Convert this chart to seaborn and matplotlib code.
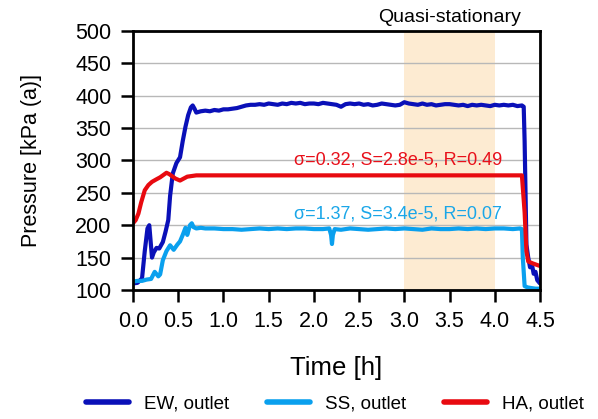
import numpy as np
import pandas as pd
import matplotlib
matplotlib.use("Agg")
import matplotlib.pyplot as plt
import seaborn as sns

# ---- data ----
ew_t = [0.00, 0.05, 0.10, 0.13, 0.16, 0.18, 0.21, 0.23, 0.26, 0.29, 0.33, 0.36, 0.39, 0.41, 0.44,
        0.48, 0.52, 0.55, 0.58, 0.61, 0.64, 0.66, 0.68, 0.70, 0.75, 0.80, 0.85, 0.90, 0.95, 1.00,
        1.05, 1.10, 1.15, 1.20, 1.25, 1.30, 1.35, 1.40, 1.45, 1.50, 1.55, 1.60, 1.65, 1.70, 1.75,
        1.80, 1.85, 1.90, 1.95, 2.00, 2.05, 2.10, 2.15, 2.20, 2.25, 2.30, 2.35, 2.40, 2.45, 2.50,
        2.55, 2.60, 2.65, 2.70, 2.75, 2.80, 2.85, 2.90, 2.95, 3.00, 3.05, 3.10, 3.15, 3.20, 3.25,
        3.30, 3.35, 3.40, 3.45, 3.50, 3.55, 3.60, 3.65, 3.70, 3.75, 3.80, 3.85, 3.90, 3.95, 4.00,
        4.05, 4.10, 4.15, 4.20, 4.25, 4.30, 4.32, 4.33, 4.35, 4.37, 4.39, 4.41, 4.43, 4.45, 4.47,
        4.50]
ew_p = [110, 111, 118, 160, 195, 200, 150, 158, 165, 164, 174, 190, 208, 245, 280,
        296, 305, 330, 352, 370, 382, 385, 380, 374, 376, 377, 376, 378, 377, 379,
        379, 380, 381, 383, 385, 386, 386, 387, 386, 388, 387, 386, 388, 387, 389,
        388, 389, 387, 388, 388, 387, 389, 388, 387, 386, 383, 387, 388, 387, 388,
        386, 387, 385, 386, 388, 387, 386, 385, 386, 390, 388, 387, 386, 388, 386,
        387, 385, 386, 387, 387, 386, 385, 386, 384, 386, 385, 386, 385, 384, 386,
        385, 386, 385, 386, 384, 385, 383, 330, 170, 150, 135, 140, 125, 128, 115,
        110]

ss_t = [0.00, 0.05, 0.10, 0.15, 0.20, 0.24, 0.28, 0.30, 0.33, 0.37, 0.41, 0.45, 0.49, 0.52, 0.55,
        0.58, 0.60, 0.63, 0.65, 0.67, 0.70, 0.75, 0.80, 0.90, 1.00, 1.10, 1.20, 1.30, 1.40, 1.50,
        1.60, 1.70, 1.80, 1.90, 2.00, 2.10, 2.17, 2.19, 2.20, 2.21, 2.23, 2.30, 2.40, 2.50, 2.60,
        2.70, 2.80, 2.90, 3.00, 3.10, 3.20, 3.30, 3.40, 3.50, 3.60, 3.70, 3.80, 3.90, 4.00, 4.10,
        4.20, 4.28, 4.30, 4.31, 4.33, 4.36, 4.40, 4.45, 4.50]
ss_p = [113, 114, 114, 116, 117, 128, 121, 124, 146, 160, 169, 162, 170, 175, 185,
        196, 185, 200, 203, 197, 195, 196, 195, 195, 194, 194, 193, 194, 195, 194,
        195, 194, 195, 195, 194, 194, 195, 185, 171, 185, 194, 193, 195, 194, 193,
        194, 195, 194, 195, 194, 193, 195, 194, 194, 195, 194, 195, 194, 195, 195,
        194, 195, 194, 150, 106, 104, 103, 102, 102]

ha_t = [0.00, 0.03, 0.06, 0.09, 0.13, 0.17, 0.21, 0.26, 0.30, 0.34, 0.37, 0.40, 0.43, 0.47, 0.52,
        0.56, 0.60, 0.65, 0.70, 0.80, 1.00, 1.50, 2.00, 2.50, 3.00, 3.50, 4.00, 4.30, 4.33, 4.35,
        4.37, 4.42, 4.50]
ha_p = [203, 208, 218, 235, 254, 262, 267, 271, 274, 278, 281, 279, 276, 272, 269,
        272, 275, 276, 277, 277, 277, 277, 277, 277, 277, 277, 277, 277, 220, 160,
        144, 141, 137]

series_names = ["EW, outlet", "SS, outlet", "HA, outlet"]
colors = ["#0a10b8", "#0aa0ee", "#e80a10"]

x_ticks = [0.0, 0.5, 1.0, 1.5, 2.0, 2.5, 3.0, 3.5, 4.0, 4.5]
y_ticks = [100, 150, 200, 250, 300, 350, 400, 450, 500]
band = [3.0, 4.0]
ha_note = "σ=0.32, S=2.8e-5, R=0.49"
ss_note = "σ=1.37, S=3.4e-5, R=0.07"

df = pd.concat([
    pd.DataFrame({"t": ew_t, "p": ew_p, "s": series_names[0]}),
    pd.DataFrame({"t": ss_t, "p": ss_p, "s": series_names[1]}),
    pd.DataFrame({"t": ha_t, "p": ha_p, "s": series_names[2]}),
], ignore_index=True)

sns.set_style("ticks")
plt.rcParams["font.family"] = ["Liberation Sans", "DejaVu Sans"]
plt.rcParams["text.color"] = "black"
plt.rcParams["axes.labelcolor"] = "black"
plt.rcParams["xtick.color"] = "black"
plt.rcParams["ytick.color"] = "black"

fig = plt.figure(figsize=(5.98, 4.19), dpi=100)
ax = fig.add_axes([0.2224, 0.308, 0.6806, 0.618])

ax.axvspan(band[0], band[1], color="#fdebd2", zorder=0, lw=0)
ax.set_axisbelow(True)
ax.yaxis.grid(True, color="#b8b8b8", lw=1.0)

sns.lineplot(data=df, x="t", y="p", hue="s", palette=dict(zip(series_names, colors)),
             estimator=None, sort=False, lw=3.0, ax=ax, legend=True)

ax.set_xlim(0, 4.5)
ax.set_ylim(100, 500)
ax.set_xticks(x_ticks)
ax.set_xticklabels([f"{v:.1f}" for v in x_ticks])
ax.set_yticks(y_ticks)
ax.tick_params(axis="both", direction="out", length=8.5, width=1.8, labelsize=15.5,
               colors="black", pad=7)
for sp in ax.spines.values():
    sp.set_linewidth(2.0)
    sp.set_color("black")
    sp.set_visible(True)

ax.set_xlabel("Time [h]", fontsize=18.5, labelpad=17)
ax.set_ylabel("Pressure [kPa (a)]", fontsize=15.5, labelpad=24)

ax.text(2.93, 300, ha_note, color="#e8101a", fontsize=13, ha="center", va="center")
ax.text(2.93, 218, ss_note, color="#1aa6e8", fontsize=13, ha="center", va="center")
ax.text(3.5, 1.02, "Quasi-stationary", transform=ax.get_xaxis_transform(), fontsize=14,
        ha="center", va="bottom")

h, l = ax.get_legend_handles_labels()
ax.legend(h, l, loc="center", bbox_to_anchor=(0.56, 0.036), bbox_transform=fig.transFigure,
          ncol=3, frameon=False, fontsize=13.5, handlelength=2.3, columnspacing=2.0,
          handletextpad=0.8)
for line in ax.get_legend().get_lines():
    line.set_linewidth(4.0)

fig.savefig("out.png", dpi=100)
